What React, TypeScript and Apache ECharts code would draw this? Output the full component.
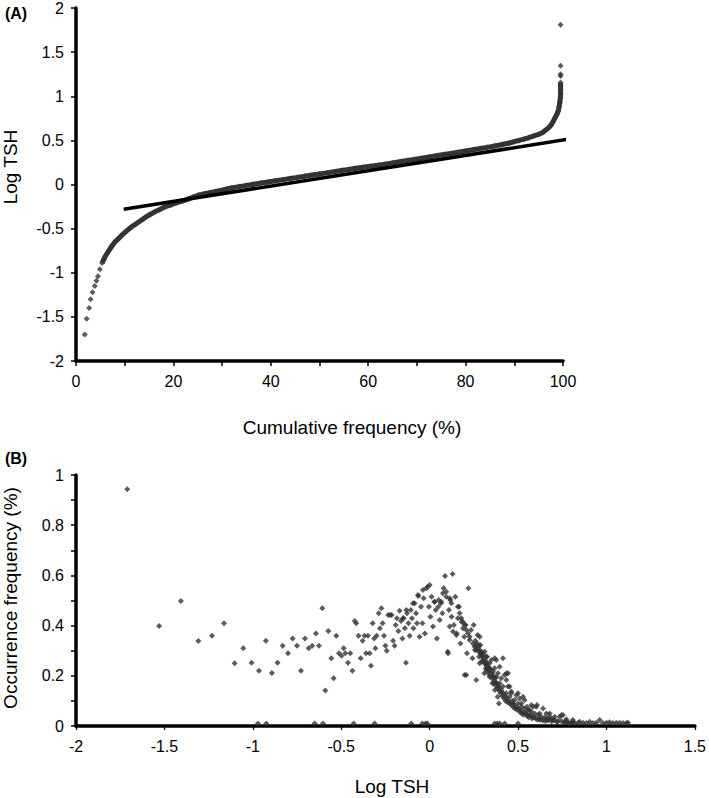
import React, { useEffect, useRef } from "react";
import * as echarts from "echarts";

// Panel A: cumulative frequency (%) vs log TSH
const curveTail: number[][] = [
  [1.8, -1.7], [2.2, -1.52], [2.7, -1.4], [3.0, -1.3], [3.4, -1.22], [3.85, -1.15],
  [4.2, -1.09], [4.5, -1.04], [4.9, -0.96],
];
const curveBody: number[][] = [
  [5.35, -0.89], [5.7, -0.85], [6.05, -0.81], [6.5, -0.77], [7.1, -0.72], [7.6, -0.68],
  [8.1, -0.645], [8.8, -0.61], [9.5, -0.57], [10.5, -0.52], [11.5, -0.476], [12.5, -0.44],
  [13.4, -0.405], [14.3, -0.37], [15.2, -0.34], [16.2, -0.31], [17.3, -0.28], [18.4, -0.25],
  [19.5, -0.23], [20.6, -0.207], [21.8, -0.187], [23.0, -0.165], [24.1, -0.142], [25.2, -0.12],
  [26.4, -0.105], [27.5, -0.093], [28.7, -0.08], [30, -0.064], [31, -0.05], [32, -0.038],
  [33.5, -0.024], [35, -0.01], [36.5, 0.003], [38, 0.016], [39.5, 0.029], [41, 0.042],
  [42.5, 0.055], [44, 0.068], [45.5, 0.081], [47, 0.094], [48.5, 0.107], [50, 0.12],
  [51.5, 0.132], [53, 0.145], [54.5, 0.158], [56, 0.171], [57.5, 0.184], [59, 0.196],
  [60.5, 0.208], [62, 0.218], [63.5, 0.231], [65, 0.245], [66.5, 0.258], [68, 0.271],
  [69.5, 0.285], [71, 0.298], [72.5, 0.311], [74, 0.325], [75.5, 0.339], [77, 0.352],
  [78.5, 0.366], [80, 0.38], [81.5, 0.393], [83, 0.407], [84.5, 0.421], [86, 0.437],
  [87.5, 0.453], [89, 0.47], [90, 0.485], [91, 0.5], [92, 0.515], [93, 0.532], [94, 0.55],
  [95, 0.568], [95.8, 0.59], [96.4, 0.615], [97, 0.64], [97.5, 0.67], [97.9, 0.706],
  [98.3, 0.75], [98.7, 0.79], [99.0, 0.83], [99.2, 0.88], [99.35, 0.93], [99.45, 0.98],
  [99.5, 1.03], [99.5, 1.08], [99.5, 1.12], [99.5, 1.157],
];
const curveTop: number[][] = [[99.5, 1.23], [99.5, 1.25], [99.5, 1.345], [99.5, 1.81]];
const fitLine: number[][] = [[9.8, -0.28], [103.8, 0.537]];

// Panel B: log TSH vs occurrence frequency (%)
const leftSparse: number[][] = [
  [-1.71, 0.943], [-1.53, 0.398], [-1.407, 0.498], [-1.308, 0.339], [-1.231, 0.36],
  [-1.163, 0.409], [-1.103, 0.25], [-1.054, 0.31], [-1.007, 0.252], [-0.965, 0.22],
  [-0.926, 0.34], [-0.892, 0.211], [-0.86, 0.252], [-0.831, 0.32], [-0.801, 0.29],
  [-0.775, 0.349], [-0.75, 0.32], [-0.728, 0.22], [-0.705, 0.349], [-0.684, 0.31],
  [-0.664, 0.32], [-0.643, 0.369], [-0.626, 0.32], [-0.607, 0.469], [-0.59, 0.141],
  [-0.573, 0.378], [-0.556, 0.27], [-0.543, 0.19], [-0.528, 0.36], [-0.513, 0.29],
  [-0.498, 0.28], [-0.486, 0.31], [-0.477, 0.29], [-0.462, 0.252], [-0.449, 0.29],
  [-0.437, 0.22], [-0.424, 0.418], [-0.415, 0.409], [-0.402, 0.36], [-0.39, 0.27],
  [-0.379, 0.34], [-0.368, 0.36], [-0.36, 0.29], [-0.349, 0.36], [-0.339, 0.29],
  [-0.332, 0.24], [-0.322, 0.409], [-0.314, 0.349], [-0.307, 0.31], [-0.3, 0.36],
];
const centralCluster: number[][] = [
  [-0.288, 0.449], [-0.281, 0.389], [-0.273, 0.469], [-0.266, 0.409], [-0.258, 0.36],
  [-0.25, 0.32], [-0.243, 0.3], [-0.234, 0.442], [-0.224, 0.442], [-0.215, 0.442],
  [-0.207, 0.34], [-0.198, 0.32], [-0.192, 0.402], [-0.185, 0.429], [-0.177, 0.378],
  [-0.17, 0.459], [-0.162, 0.418], [-0.154, 0.349], [-0.147, 0.429], [-0.14, 0.389],
  [-0.134, 0.252], [-0.128, 0.449], [-0.12, 0.409], [-0.113, 0.36], [-0.107, 0.462],
  [-0.1, 0.429], [-0.092, 0.389], [-0.085, 0.489], [-0.077, 0.449], [-0.072, 0.409],
  [-0.064, 0.518], [-0.057, 0.356], [-0.049, 0.475], [-0.041, 0.409], [-0.034, 0.509],
  [-0.027, 0.369], [-0.019, 0.549], [-0.011, 0.555], [-0.004, 0.475], [0.004, 0.435],
  [0.011, 0.515], [0.019, 0.396], [0.027, 0.495], [0.034, 0.462], [0.041, 0.349],
  [0.049, 0.475], [0.057, 0.422], [0.064, 0.489], [0.072, 0.449], [0.079, 0.549],
  [0.087, 0.598], [0.094, 0.515], [0.102, 0.296], [0.109, 0.462], [0.117, 0.502],
  [0.124, 0.435], [0.13, 0.606], [0.137, 0.402], [0.145, 0.515], [0.153, 0.369],
  [0.16, 0.429], [0.166, 0.475], [0.174, 0.329], [0.181, 0.415], [0.189, 0.389],
  [0.196, 0.356], [0.204, 0.402], [0.211, 0.29], [0.219, 0.549], [0.226, 0.343],
  [0.234, 0.382], [0.242, 0.27], [0.249, 0.402], [0.256, 0.303], [0.264, 0.183],
  [-0.151, 0.429], [-0.132, 0.462], [-0.094, 0.489], [-0.066, 0.522], [-0.038, 0.542],
  [0.0, 0.562], [0.028, 0.495], [0.051, 0.502], [0.066, 0.495], [0.075, 0.529],
  [0.094, 0.535], [0.113, 0.509], [0.123, 0.489], [0.16, 0.475], [0.17, 0.449],
  [0.179, 0.429], [0.188, 0.415], [0.198, 0.402], [0.207, 0.382], [0.217, 0.369],
  [0.226, 0.356], [0.245, 0.329], [0.254, 0.316], [0.113, 0.396], [0.132, 0.376],
  [0.151, 0.363], [0.104, 0.29], [0.207, 0.203], [0.198, 0.203],
];
const descendingBand: number[][] = [
  [0.271, 0.363], [0.279, 0.276], [0.287, 0.323], [0.294, 0.256], [0.301, 0.283],
  [0.309, 0.21], [0.317, 0.25], [0.324, 0.276], [0.332, 0.23], [0.339, 0.196],
  [0.347, 0.223], [0.355, 0.17], [0.362, 0.196], [0.369, 0.143], [0.377, 0.17],
  [0.385, 0.117], [0.392, 0.09], [0.264, 0.303], [0.283, 0.356], [0.283, 0.25],
  [0.292, 0.29], [0.302, 0.263], [0.311, 0.296], [0.32, 0.276], [0.32, 0.223],
  [0.33, 0.236], [0.339, 0.25], [0.349, 0.263], [0.358, 0.216], [0.368, 0.23],
  [0.368, 0.27], [0.377, 0.196], [0.377, 0.263], [0.386, 0.21], [0.396, 0.17],
  [0.396, 0.236], [0.405, 0.19], [0.415, 0.157], [0.415, 0.27], [0.424, 0.203],
  [0.434, 0.13], [0.434, 0.183], [0.434, 0.21], [0.443, 0.157], [0.443, 0.21],
  [0.452, 0.117], [0.452, 0.157], [0.462, 0.137], [0.462, 0.13], [0.471, 0.09],
  [0.481, 0.104], [0.49, 0.077], [0.49, 0.123], [0.5, 0.09], [0.5, 0.13],
  [0.509, 0.064], [0.509, 0.11], [0.519, 0.077], [0.519, 0.09], [0.528, 0.057],
  [0.528, 0.117], [0.537, 0.07], [0.537, 0.104], [0.547, 0.05], [0.55, 0.077],
  [0.556, 0.064], [0.566, 0.044], [0.566, 0.064], [0.575, 0.057], [0.575, 0.084],
  [0.585, 0.037], [0.585, 0.077], [0.594, 0.05], [0.603, 0.077], [0.607, 0.084],
  [0.613, 0.044], [0.622, 0.03], [0.622, 0.05], [0.632, 0.037], [0.641, 0.07],
  [0.651, 0.034], [0.66, 0.027], [0.66, 0.05], [0.67, 0.03], [0.679, 0.037],
  [0.679, 0.05], [0.688, 0.027], [0.698, 0.024], [0.707, 0.024], [0.707, 0.037],
  [0.726, 0.02], [0.735, 0.037], [0.745, 0.02], [0.745, 0.044], [0.754, 0.044],
  [0.764, 0.017], [0.773, 0.02], [0.773, 0.027], [0.782, 0.015], [0.801, 0.013],
  [0.81, 0.017], [0.81, 0.024], [0.82, 0.012], [0.839, 0.012],
];
const bandFill: number[][] = [
  [0.258, 0.34], [0.262, 0.32], [0.268, 0.33], [0.272, 0.31], [0.276, 0.3], [0.28, 0.32],
  [0.285, 0.29], [0.289, 0.3], [0.293, 0.28], [0.298, 0.29], [0.305, 0.27], [0.31, 0.25],
  [0.315, 0.26], [0.318, 0.23], [0.322, 0.24], [0.327, 0.25], [0.331, 0.21], [0.335, 0.22],
  [0.34, 0.23], [0.344, 0.2], [0.35, 0.21], [0.353, 0.19], [0.358, 0.2], [0.362, 0.17],
  [0.366, 0.18], [0.371, 0.19], [0.375, 0.16], [0.38, 0.17], [0.384, 0.15], [0.388, 0.16],
  [0.393, 0.14], [0.398, 0.15], [0.402, 0.13], [0.407, 0.14], [0.411, 0.12], [0.416, 0.13],
  [0.42, 0.11], [0.426, 0.12], [0.43, 0.1], [0.437, 0.11], [0.441, 0.095], [0.447, 0.1],
  [0.455, 0.09], [0.46, 0.085], [0.466, 0.1], [0.474, 0.075], [0.478, 0.085], [0.485, 0.07],
  [0.494, 0.065], [0.503, 0.07], [0.512, 0.055], [0.522, 0.05], [0.531, 0.045], [0.54, 0.05],
  [0.552, 0.04], [0.56, 0.035], [0.57, 0.04], [0.58, 0.03], [0.59, 0.035], [0.6, 0.03],
  [0.61, 0.025], [0.625, 0.025], [0.64, 0.022], [0.655, 0.02], [0.67, 0.022], [0.69, 0.018],
  [0.72, 0.015], [0.76, 0.012], [0.79, 0.01],
];
const rightTail: number[][] = [
  [0.848, 0.017], [0.867, 0.013], [0.886, 0.012], [0.905, 0.017], [0.924, 0.012],
  [0.943, 0.013], [0.962, 0.024], [0.98, 0.012], [1.0, 0.013], [1.018, 0.015],
  [1.037, 0.012], [1.056, 0.013], [1.075, 0.013], [1.094, 0.012], [1.113, 0.012],
  [1.122, 0.013],
];
const zeroRow: number[][] = [
  [-0.971, 0.01], [-0.924, 0.01], [-0.65, 0.01], [-0.603, 0.01], [-0.43, 0.01],
  [-0.311, 0.01], [-0.104, 0.01], [-0.041, 0.01], [-0.023, 0.01], [-0.013, 0.01],
  [0.368, 0.01], [0.383, 0.01], [0.396, 0.01], [0.424, 0.01], [0.5, 0.01],
];

const FONT = "'Liberation Sans', Arial, sans-serif";
const DOT = "#333333";

function axisCommon(extra: any) {
  return {
    axisLine: { show: true, onZero: false, lineStyle: { color: "#000", width: 3.5 } },
    axisTick: { show: true, inside: false, length: 5, lineStyle: { color: "#000", width: 1.5 } },
    axisLabel: { fontSize: 16, color: "#000", fontFamily: FONT, margin: 12 },
    splitLine: { show: false },
    minorSplitLine: { show: false },
    ...extra,
  };
}

export default function App() {
  const ref = useRef<HTMLDivElement>(null);
  useEffect(() => {
    if (!ref.current) return;
    const chart = echarts.init(ref.current, undefined, { renderer: "svg" });
    const text = (t: string, x: number, y: number, size: number, bold = false, rot = 0) => ({
      type: "text",
      x,
      y,
      rotation: rot,
      style: {
        text: t,
        fontSize: size,
        fontWeight: bold ? "bold" : "normal",
        fontFamily: FONT,
        fill: "#000",
        align: "center",
        verticalAlign: "middle",
      },
    });
    chart.setOption({
      animation: false,
      backgroundColor: "#fff",
      grid: [
        { left: 76, top: 5, width: 487, height: 356 },
        { left: 76, top: 475, width: 619, height: 251 },
      ],
      xAxis: [
        axisCommon({
          gridIndex: 0, type: "value", min: 0, max: 100, interval: 20,
          minorTick: { show: true, splitNumber: 2, length: 5, lineStyle: { color: "#000", width: 1.5 } },
        }),
        axisCommon({ gridIndex: 1, type: "value", min: -2, max: 1.5, interval: 0.5,
          axisTick: { show: true, length: 4, lineStyle: { color: "#000", width: 1.2 } } }),
      ],
      yAxis: [
        axisCommon({ gridIndex: 0, type: "value", min: -2, max: 2, interval: 0.5 }),
        axisCommon({
          gridIndex: 1, type: "value", min: 0, max: 1, interval: 0.2,
          minorTick: { show: true, splitNumber: 2, length: 5, lineStyle: { color: "#000", width: 1.5 } },
        }),
      ],
      graphic: [
        text("(A)", 16, 13, 16, true),
        text("Log TSH", 10, 167, 19, false, Math.PI / 2),
        text("Cumulative frequency (%)", 352, 427, 19),
        text("(B)", 16, 458, 16, true),
        text("Occurrence frequency (%)", 10, 598, 19, false, Math.PI / 2),
        text("Log TSH", 392, 786, 19),
      ],
      series: [
        {
          type: "line", xAxisIndex: 0, yAxisIndex: 0, data: curveBody, showSymbol: false,
          lineStyle: { color: DOT, width: 5 }, z: 2,
        },
        {
          type: "scatter", xAxisIndex: 0, yAxisIndex: 0,
          data: [...curveTail, ...curveBody, ...curveTop],
          symbol: "diamond", symbolSize: 6, itemStyle: { color: DOT }, z: 2,
        },
        {
          type: "line", xAxisIndex: 0, yAxisIndex: 0, data: fitLine, showSymbol: false, clip: false,
          lineStyle: { color: "#000", width: 3.5 }, z: 3,
        },
        {
          type: "scatter", xAxisIndex: 1, yAxisIndex: 1,
          data: [...leftSparse, ...centralCluster, ...descendingBand, ...bandFill, ...rightTail, ...zeroRow],
          symbol: "diamond", symbolSize: 6, itemStyle: { color: DOT }, z: 2,
        },
      ],
    });
    return () => chart.dispose();
  }, []);
  return (
    <div
      ref={ref}
      style={{ position: "absolute", left: 0, top: 0, width: 709, height: 798, background: "#fff" }}
    />
  );
}
